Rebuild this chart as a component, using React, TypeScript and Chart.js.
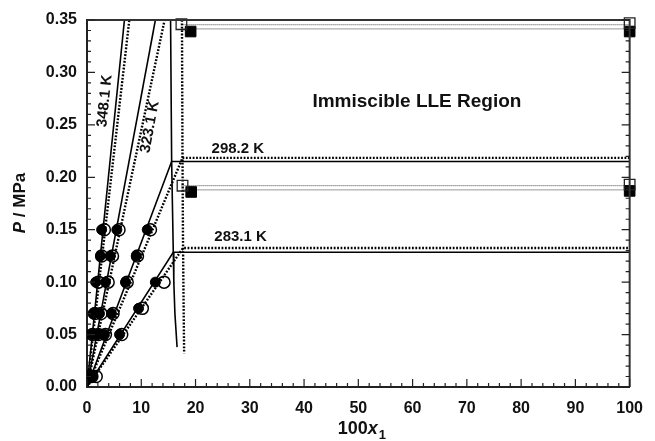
import React, { useEffect, useRef } from 'react';
import { Chart, registerables } from 'chart.js';

Chart.register(...registerables);

// ---------- data ----------
const P_EXP = [0.01, 0.05, 0.07, 0.1, 0.125, 0.15];
const X348_FILLED = [0.1, 0.85, 1.1, 1.6, 2.5, 2.7];
const X348_OPEN = [0.3, 1.0, 1.45, 2.1, 2.7, 3.2];
const X323_FILLED = [0.3, 2.0, 2.3, 3.4, 4.3, 5.5];
const X323_OPEN = [0.5, 2.1, 2.6, 3.9, 4.7, 5.9];
const X298_FILLED = [0.6, 3.2, 4.5, 7.1, 9.1, 11.1];
const X298_OPEN = [0.9, 3.4, 4.8, 7.4, 9.3, 11.7];
const P_EXP_283 = [0.01, 0.05, 0.075, 0.1];
const X283_FILLED = [1.0, 6.0, 9.5, 12.6];
const X283_OPEN = [1.7, 6.4, 10.2, 14.2];

// model curves (solid = model A, dotted = model B)
const X348_SOLID = [0, 6.9];
const P348_SOLID = [0, 0.35];
const X348_DOT = [0, 7.8];
const P348_DOT = [0, 0.35];
const X323_SOLID = [0, 12.6];
const P323_SOLID = [0, 0.35];
const X323_DOT = [0, 14.3];
const P323_DOT = [0, 0.35];
const X298_SOLID = [0, 15.6, 100];
const P298_SOLID = [0, 0.215, 0.215];
const X298_DOT = [0, 17.6, 100];
const P298_DOT = [0, 0.2185, 0.2185];
const X283_SOLID = [0, 15.9, 100];
const P283_SOLID = [0, 0.1285, 0.1285];
const X283_DOT = [0, 17.7, 100];
const P283_DOT = [0, 0.1325, 0.1325];

// LLE phase boundary
const XB_SOLID = [15.4, 15.6, 15.9, 16.0, 16.2, 16.6];
const PB_SOLID = [0.35, 0.215, 0.1285, 0.1, 0.07, 0.038];
const XB_DOT = [17.5, 17.6, 17.7, 17.8, 17.9];
const PB_DOT = [0.35, 0.2185, 0.1325, 0.08, 0.032];

// LLE tie lines and squares
const X_TIE = [17.4, 100];
const P_TIE_HI_DOT = [0.3455, 0.3455];
const P_TIE_HI_GRAY = [0.3415, 0.3415];
const P_TIE_LO_DOT = [0.192, 0.192];
const P_TIE_LO_GRAY = [0.188, 0.188];
const X_SQ_OPEN = [17.4, 100, 17.6, 100];
const P_SQ_OPEN = [0.346, 0.347, 0.192, 0.193];
const X_SQ_FILLED = [19.1, 100, 19.2, 100];
const P_SQ_FILLED = [0.339, 0.339, 0.186, 0.187];

// ticks
const X_TICK_STEP = 10;
const Y_TICK_STEP = 0.05;
const X_MAX = 100;
const Y_MAX = 0.35;

const FONT = '"Liberation Sans", Arial, Helvetica, sans-serif';

const pts = (xs: number[], ps: number[]) => xs.map((x, i) => ({ x, y: ps[i] }));

const solid = (xs: number[], ps: number[]) => ({
  data: pts(xs, ps),
  showLine: true,
  borderColor: '#000',
  borderWidth: 1.6,
  pointRadius: 0,
  fill: false,
});
const dotted = (xs: number[], ps: number[]) => ({
  data: pts(xs, ps),
  showLine: true,
  borderColor: '#000',
  borderWidth: 2.4,
  borderDash: [1.8, 1.6],
  pointRadius: 0,
  fill: false,
});
const filledC = (xs: number[], ps: number[]) => ({
  data: pts(xs, ps),
  showLine: false,
  pointStyle: 'circle',
  pointRadius: 5,
  backgroundColor: '#000',
  borderColor: '#000',
  borderWidth: 1,
});
const openC = (xs: number[], ps: number[]) => ({
  data: pts(xs, ps),
  showLine: false,
  pointStyle: 'circle',
  pointRadius: 6,
  backgroundColor: 'rgba(0,0,0,0)',
  borderColor: '#000',
  borderWidth: 1.5,
});

const decorPlugin = {
  id: 'decor',
  afterDraw(chart: any) {
    const { ctx, chartArea } = chart;
    const xs = chart.scales.x;
    const ys = chart.scales.y;
    ctx.save();
    // frame top/right
    ctx.strokeStyle = '#333';
    ctx.lineWidth = 2;
    ctx.beginPath();
    ctx.moveTo(chartArea.left, chartArea.top);
    ctx.lineTo(chartArea.right, chartArea.top);
    ctx.lineTo(chartArea.right, chartArea.bottom);
    ctx.stroke();
    // inward ticks
    ctx.lineWidth = 1.2;
    ctx.strokeStyle = '#222';
    ctx.beginPath();
    for (let i = 0; i <= 50; i++) {
      const v = i * 2;
      const px = xs.getPixelForValue(v);
      const len = v % 10 === 0 ? 8 : 4;
      ctx.moveTo(px, chartArea.bottom);
      ctx.lineTo(px, chartArea.bottom - len);
    }
    for (let i = 0; i <= 35; i++) {
      const py = ys.getPixelForValue(i / 100);
      const len = i % 5 === 0 ? 8 : 4;
      ctx.moveTo(chartArea.left, py);
      ctx.lineTo(chartArea.left + len, py);
      ctx.moveTo(chartArea.right, py);
      ctx.lineTo(chartArea.right - len, py);
    }
    ctx.stroke();

    // annotations
    ctx.fillStyle = '#111';
    const drawText = (t: string, x: number, y: number, a: number, font: string) => {
      ctx.save();
      ctx.font = font;
      ctx.translate(x, y);
      ctx.rotate(a);
      ctx.textAlign = 'center';
      ctx.textBaseline = 'middle';
      ctx.fillText(t, 0, 0);
      ctx.restore();
    };
    const ang = (x1: number, p1: number) =>
      Math.atan2(
        ys.getPixelForValue(p1) - ys.getPixelForValue(0),
        xs.getPixelForValue(x1) - xs.getPixelForValue(0)
      );
    const f15 = `bold 15px ${FONT}`;
    drawText('348.1 K', xs.getPixelForValue(3.27), ys.getPixelForValue(0.2727), ang(X348_SOLID[1], P348_SOLID[1]), f15);
    drawText('323.1 K', xs.getPixelForValue(11.6), ys.getPixelForValue(0.248), ang(X323_SOLID[1], P323_SOLID[1]), f15);
    drawText('298.2 K', xs.getPixelForValue(27.8), ys.getPixelForValue(0.227), 0, f15);
    drawText('283.1 K', xs.getPixelForValue(28.3), ys.getPixelForValue(0.143), 0, f15);
    drawText('Immiscible LLE Region', xs.getPixelForValue(60.8), ys.getPixelForValue(0.272), 0, `bold 19px ${FONT}`);

    // y title
    ctx.save();
    ctx.translate(20, 203);
    ctx.rotate(-Math.PI / 2);
    ctx.textBaseline = 'middle';
    ctx.textAlign = 'left';
    const fi = `italic bold 17px ${FONT}`;
    const fb = `bold 17px ${FONT}`;
    ctx.font = fi;
    const w1 = ctx.measureText('P').width;
    ctx.font = fb;
    const w2 = ctx.measureText(' / MPa').width;
    const sx = -(w1 + w2) / 2;
    ctx.font = fi;
    ctx.fillText('P', sx, 0);
    ctx.font = fb;
    ctx.fillText(' / MPa', sx + w1, 0);
    ctx.restore();

    // x title
    ctx.save();
    ctx.textBaseline = 'alphabetic';
    ctx.textAlign = 'left';
    const xb = `bold 18px ${FONT}`;
    const xi = `italic bold 18px ${FONT}`;
    const xs13 = `bold 13px ${FONT}`;
    ctx.font = xb;
    const a1 = ctx.measureText('100').width;
    ctx.font = xi;
    const a2 = ctx.measureText('x').width;
    ctx.font = xs13;
    const a3 = ctx.measureText('1').width;
    const cx = (xs.getPixelForValue(0) + xs.getPixelForValue(X_MAX)) / 2 + 3;
    const tx = cx - (a1 + a2 + a3) / 2;
    const by = 434;
    ctx.font = xb;
    ctx.fillText('100', tx, by);
    ctx.font = xi;
    ctx.fillText('x', tx + a1, by);
    ctx.font = xs13;
    ctx.fillText('1', tx + a1 + a2 + 1, by + 5);
    ctx.restore();

    ctx.restore();
  },
};

export default function App() {
  const ref = useRef<HTMLCanvasElement | null>(null);
  useEffect(() => {
    if (!ref.current) return;
    const chart = new Chart(ref.current, {
      type: 'scatter',
      data: {
        datasets: [
          { ...openC(X_SQ_OPEN, P_SQ_OPEN), pointStyle: 'rect', pointRadius: 7.5, borderWidth: 1.3, borderColor: '#222', clip: false } as any,
          { ...filledC(X_SQ_FILLED, P_SQ_FILLED), pointStyle: 'rect', pointRadius: 7.5, clip: false } as any,
          openC(X348_OPEN, P_EXP),
          filledC(X348_FILLED, P_EXP),
          openC(X323_OPEN, P_EXP),
          filledC(X323_FILLED, P_EXP),
          openC(X298_OPEN, P_EXP),
          filledC(X298_FILLED, P_EXP),
          openC(X283_OPEN, P_EXP_283),
          filledC(X283_FILLED, P_EXP_283),
          solid(X348_SOLID, P348_SOLID),
          dotted(X348_DOT, P348_DOT),
          solid(X323_SOLID, P323_SOLID),
          dotted(X323_DOT, P323_DOT),
          solid(X298_SOLID, P298_SOLID),
          dotted(X298_DOT, P298_DOT),
          solid(X283_SOLID, P283_SOLID),
          dotted(X283_DOT, P283_DOT),
          solid(XB_SOLID, PB_SOLID),
          dotted(XB_DOT, PB_DOT),
          { data: pts(X_TIE, P_TIE_HI_DOT), showLine: true, borderColor: '#444', borderWidth: 1, borderDash: [1, 1], pointRadius: 0 },
          { data: pts(X_TIE, P_TIE_HI_GRAY), showLine: true, borderColor: '#999', borderWidth: 1, pointRadius: 0 },
          { data: pts(X_TIE, P_TIE_LO_DOT), showLine: true, borderColor: '#444', borderWidth: 1, borderDash: [1, 1], pointRadius: 0 },
          { data: pts(X_TIE, P_TIE_LO_GRAY), showLine: true, borderColor: '#999', borderWidth: 1, pointRadius: 0 },
        ] as any,
      },
      options: {
        animation: false,
        responsive: false,
        events: [],
        layout: { padding: { left: 0, right: 17, top: 20, bottom: 0 } },
        plugins: { legend: { display: false }, tooltip: { enabled: false } },
        scales: {
          x: {
            type: 'linear',
            min: 0,
            max: X_MAX,
            grid: { display: false, drawTicks: false },
            border: { display: true, color: '#222', width: 2 },
            ticks: {
              stepSize: X_TICK_STEP,
              padding: 12,
              color: '#111',
              font: { family: FONT, weight: 'bold', size: 16 },
              maxRotation: 0,
            },
            afterFit: (s: any) => {
              s.height = 54;
            },
          },
          y: {
            type: 'linear',
            min: 0,
            max: Y_MAX,
            grid: { display: false, drawTicks: false },
            border: { display: true, color: '#222', width: 2 },
            ticks: {
              stepSize: Y_TICK_STEP,
              padding: 10,
              color: '#111',
              font: { family: FONT, weight: 'bold', size: 16 },
              callback: (v: any) => Number(v).toFixed(2),
            },
            afterFit: (s: any) => {
              s.width = 87;
            },
          },
        },
      } as any,
      plugins: [decorPlugin],
    });
    return () => chart.destroy();
  }, []);
  return (
    <div style={{ position: 'absolute', left: 0, top: 0, width: 655, height: 441, background: '#fff' }}>
      <canvas ref={ref} width={655} height={441} style={{ width: 655, height: 441, display: 'block' }} />
    </div>
  );
}
